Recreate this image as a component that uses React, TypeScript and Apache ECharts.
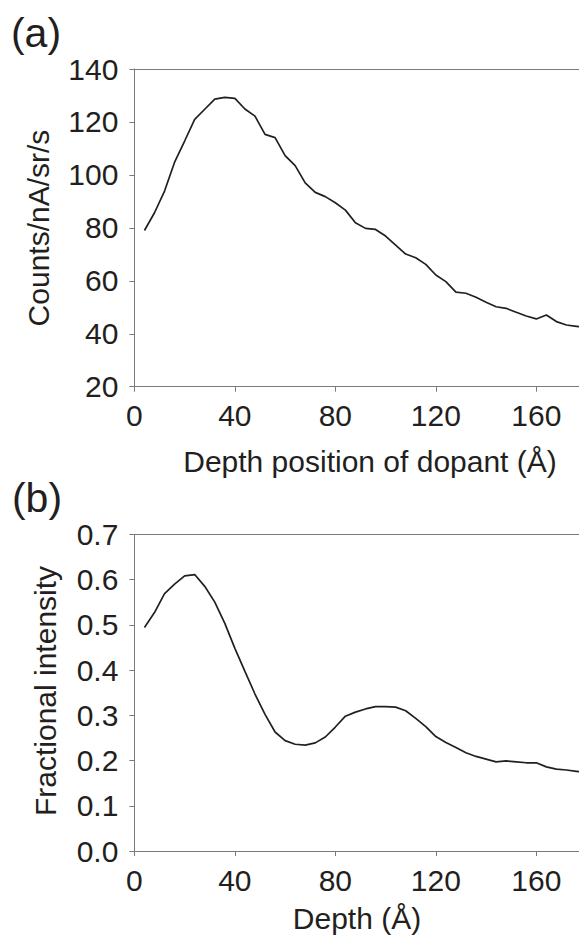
import React, { useEffect, useRef } from "react";
import * as echarts from "echarts";

// ---- data ----
const depthA = [4, 8, 12, 16, 20, 24, 28, 32, 36, 40, 44, 48, 52, 56, 60, 64, 68, 72, 76, 80, 84, 88, 92, 96, 100, 104, 108, 112, 116, 120, 124, 128, 132, 136, 140, 144, 148, 152, 156, 160, 164, 168, 172, 176, 180];
const countsA = [79, 85.7, 93.9, 104.8, 112.8, 121, 124.8, 128.6, 129.3, 128.9, 124.9, 122.2, 115.3, 114.1, 107.3, 103.5, 97, 93.4, 91.8, 89.5, 86.7, 81.9, 79.8, 79.4, 76.9, 73.5, 70.1, 68.7, 66.2, 62.2, 59.7, 55.7, 55.3, 53.8, 51.9, 50.2, 49.6, 48.1, 46.7, 45.6, 47.1, 44.6, 43.3, 42.8, 42.3];

const depthB = [4, 8, 12, 16, 20, 24, 28, 32, 36, 40, 44, 48, 52, 56, 60, 64, 68, 72, 76, 80, 84, 88, 92, 96, 100, 104, 108, 112, 116, 120, 124, 128, 132, 136, 140, 144, 148, 152, 156, 160, 164, 168, 172, 176, 180];
const fractionB = [0.494, 0.527, 0.569, 0.59, 0.608, 0.611, 0.585, 0.55, 0.503, 0.448, 0.397, 0.347, 0.302, 0.263, 0.244, 0.236, 0.234, 0.239, 0.252, 0.274, 0.298, 0.307, 0.314, 0.319, 0.319, 0.318, 0.31, 0.293, 0.275, 0.253, 0.24, 0.229, 0.217, 0.209, 0.203, 0.197, 0.199, 0.197, 0.195, 0.195, 0.186, 0.181, 0.179, 0.176, 0.173];

const xTicks = [0, 40, 80, 120, 160];
const yTicksA = [20, 40, 60, 80, 100, 120, 140];
const yTicksB = [0, 0.1, 0.2, 0.3, 0.4, 0.5, 0.6, 0.7];

const xTitleA = "Depth position of dopant (Å)";
const yTitleA = "Counts/nA/sr/s";
const xTitleB = "Depth (Å)";
const yTitleB = "Fractional intensity";
const panelA = "(a)";
const panelB = "(b)";

const FONT = "Liberation Sans, Arial, Helvetica, sans-serif";
const TEXT = "#231f20";
const AXIS = "#7a7a7a";

export default function App() {
  const ref = useRef<HTMLDivElement>(null);

  useEffect(() => {
    document.body.style.margin = "0";
    const chart = echarts.init(ref.current!, null, { renderer: "svg" });

    const xMax = 177;
    const axisLine = { show: true, onZero: false, lineStyle: { color: AXIS, width: 1 } };
    const label = { fontSize: 30, color: TEXT, fontFamily: FONT };

    const bottomX = (gridIndex: number) => ({
      type: "value",
      gridIndex,
      position: "bottom",
      min: 0,
      max: xMax,
      axisLine,
      axisTick: { show: true, inside: false, length: 5, customValues: xTicks, lineStyle: { color: AXIS } },
      axisLabel: { ...label, margin: 14, customValues: xTicks },
      splitLine: { show: false },
    });
    const topX = (gridIndex: number) => ({
      type: "value",
      gridIndex,
      position: "top",
      min: 0,
      max: xMax,
      axisLine,
      axisTick: { show: false },
      axisLabel: { show: false },
      splitLine: { show: false },
    });

    const titleText = (text: string, x: number, y: number, size: number, rotation = 0) => ({
      type: "text",
      x,
      y,
      rotation,
      style: {
        text,
        fill: TEXT,
        fontSize: size,
        fontFamily: FONT,
        textAlign: "center",
        textVerticalAlign: "middle",
        align: "center",
        verticalAlign: "middle",
      },
    });

    chart.setOption({
      animation: false,
      backgroundColor: "#ffffff",
      grid: [
        { left: 134.4, top: 69, width: 444.6, height: 317.7, containLabel: false },
        { left: 134.4, top: 534.3, width: 444.6, height: 316.7, containLabel: false },
      ],
      xAxis: [bottomX(0), topX(0), bottomX(1), topX(1)],
      yAxis: [
        {
          type: "value",
          gridIndex: 0,
          min: 20,
          max: 140,
          axisLine,
          axisTick: { show: true, inside: false, length: 5, customValues: yTicksA, lineStyle: { color: AXIS } },
          axisLabel: { ...label, margin: 16, customValues: yTicksA },
          splitLine: { show: false },
        },
        {
          type: "value",
          gridIndex: 1,
          min: 0,
          max: 0.7,
          axisLine,
          axisTick: { show: true, inside: false, length: 5, customValues: yTicksB, lineStyle: { color: AXIS } },
          axisLabel: { ...label, margin: 16, customValues: yTicksB, formatter: (v: number) => v.toFixed(1) },
          splitLine: { show: false },
        },
      ],
      series: [
        {
          type: "line",
          xAxisIndex: 0,
          yAxisIndex: 0,
          data: depthA.map((d, i) => [d, countsA[i]]),
          showSymbol: false,
          symbol: "none",
          clip: true,
          lineStyle: { color: TEXT, width: 1.7 },
        },
        {
          type: "line",
          xAxisIndex: 2,
          yAxisIndex: 1,
          data: depthB.map((d, i) => [d, fractionB[i]]),
          showSymbol: false,
          symbol: "none",
          clip: true,
          lineStyle: { color: TEXT, width: 1.7 },
        },
      ],
      graphic: [
        titleText(panelA, 36, 33, 41),
        titleText(panelB, 37, 498, 41),
        titleText(xTitleA, 370, 461, 30),
        titleText(xTitleB, 357, 918, 30),
        titleText(yTitleA, 38, 228, 30, Math.PI / 2),
        titleText(yTitleB, 45, 691, 30, Math.PI / 2),
      ],
    });

    return () => chart.dispose();
  }, []);

  return <div ref={ref} style={{ width: 579, height: 941 }} />;
}
